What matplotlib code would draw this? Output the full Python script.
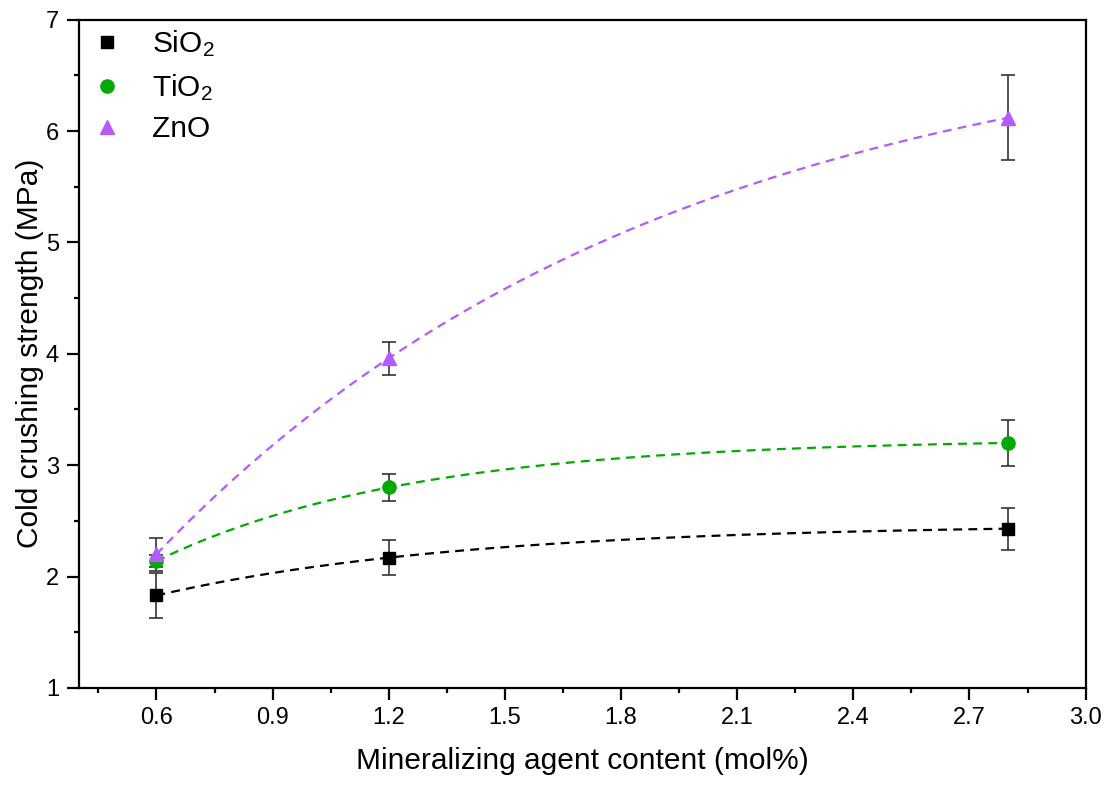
import numpy as np
import matplotlib
matplotlib.use("Agg")
import matplotlib.pyplot as plt
from matplotlib.lines import Line2D
from matplotlib.ticker import MultipleLocator

plt.rcParams['font.family'] = ['Liberation Sans', 'DejaVu Sans']
plt.rcParams['mathtext.fontset'] = 'custom'
plt.rcParams['mathtext.rm'] = 'Liberation Sans'
plt.rcParams['mathtext.it'] = 'Liberation Sans'

# data
content = [0.6, 1.2, 2.8]
sio2 = [1.83, 2.17, 2.43]
sio2_err = [0.20, 0.16, 0.19]
tio2 = [2.14, 2.80, 3.20]
tio2_err = [0.05, 0.12, 0.21]
zno = [2.20, 3.96, 6.12]
zno_err = [0.15, 0.15, 0.38]

series = [
	("SiO$_2$", sio2, sio2_err, "black", "s", 8),
	("TiO$_2$", tio2, tio2_err, "#00AA00", "o", 9.5),
	("ZnO", zno, zno_err, "#B45AFF", "^", 10),
]


def exp_fit(x, y):
	# y = y0 - b*exp(-k*x) through three points, k found by bisection
	x = np.asarray(x)
	y = np.asarray(y)
	target = (y[2] - y[1]) / (y[1] - y[0])

	def ratio(k):
		e = np.exp(-k * x)
		return (e[1] - e[2]) / (e[0] - e[1])

	lo, hi = 1e-4, 10.0
	for _ in range(200):
		mid = 0.5 * (lo + hi)
		if ratio(mid) > target:
			lo = mid
		else:
			hi = mid
	k = 0.5 * (lo + hi)
	e = np.exp(-k * x)
	b = (y[1] - y[0]) / (e[0] - e[1])
	y0 = y[0] + b * e[0]
	return lambda t: y0 - b * np.exp(-k * t)


fig = plt.figure(figsize=(11.1, 7.88), dpi=100)
ax = fig.add_axes([0.0712, 0.127, 0.9068, 0.848])

xs = np.linspace(content[0], content[-1], 300)
handles = []
for label, vals, err, color, marker, ms in series:
	f = exp_fit(content, vals)
	ax.plot(xs, f(xs), '--', color=color, lw=1.6, dashes=(4, 2.8), zorder=2)
	ax.errorbar(content, vals, yerr=err, fmt='none', ecolor='#333333',
				elinewidth=1.2, capsize=5, capthick=1.2, zorder=3)
	ax.plot(content, vals, linestyle='none', marker=marker, color=color,
			markersize=ms, zorder=4)
	handles.append(Line2D([], [], linestyle='none', marker=marker, color=color,
						  markersize=ms, label=label))

ax.set_xlim(0.4, 3.0)
ax.set_ylim(1, 7)
ax.yaxis.set_major_locator(MultipleLocator(1))
ax.yaxis.set_minor_locator(MultipleLocator(0.5))
ax.set_xticks(np.arange(0.6, 3.01, 0.3))
ax.set_xticklabels([f"{v:.1f}" for v in np.arange(0.6, 3.01, 0.3)])
ax.set_xticks(np.arange(0.45, 3.0, 0.3), minor=True)

for s in ax.spines.values():
	s.set_linewidth(1.6)
ax.tick_params(which='major', direction='out', length=8.5, width=1.6,
			   labelsize=17, top=False, right=False)
ax.tick_params(axis='y', which='major', pad=6)
ax.tick_params(axis='x', which='major', pad=5)
ax.tick_params(which='minor', direction='out', length=3.8, width=1.6,
			   top=False, right=False)

ax.set_xlabel("Mineralizing agent content (mol%)", fontsize=21.5, labelpad=13)
ax.set_ylabel("Cold crushing strength (MPa)", fontsize=21.5, labelpad=1)

ax.legend(handles=handles, loc='upper left', frameon=False, fontsize=21.5,
		  handletextpad=0.86, labelspacing=0.42, borderaxespad=0.1,
		  borderpad=0.2, handlelength=1.28)

fig.savefig("out.png", dpi=100)
